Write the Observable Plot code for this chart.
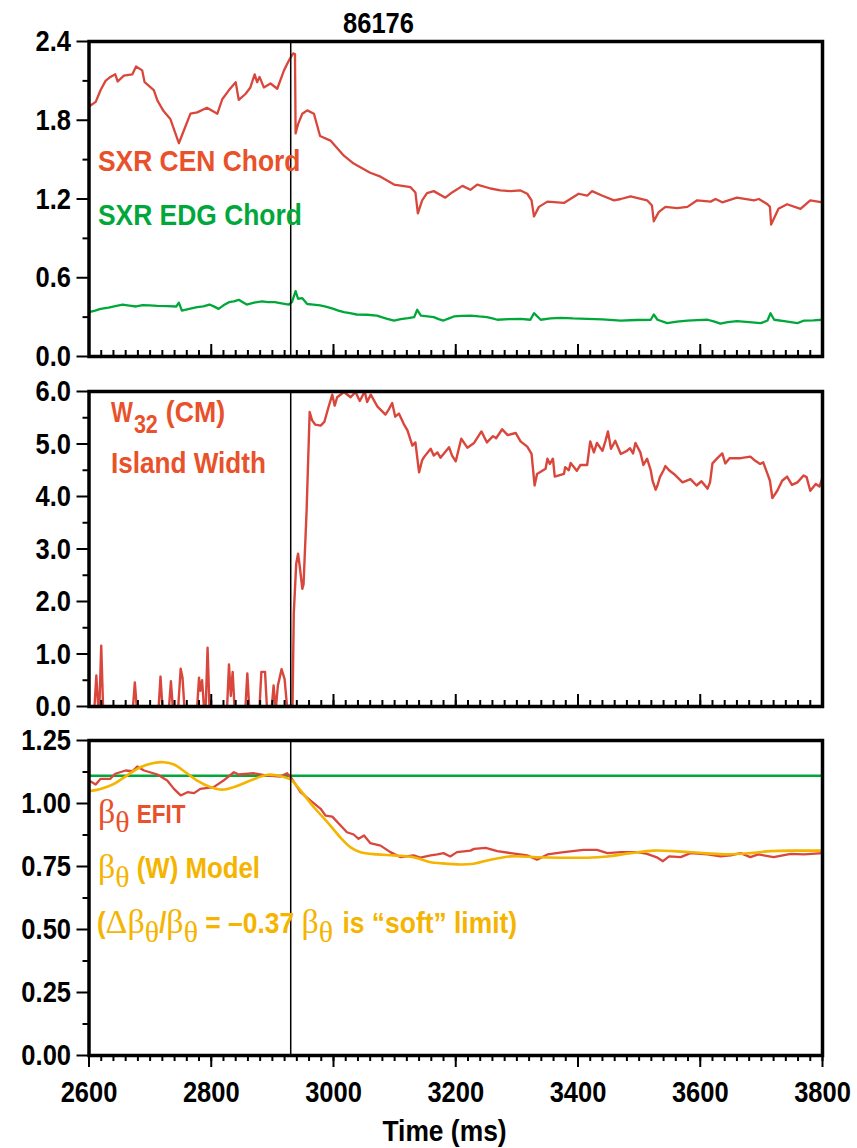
<!DOCTYPE html>
<html><head><meta charset="utf-8">
<script src="https://cdn.jsdelivr.net/npm/d3@7"></script>
<script src="https://cdn.jsdelivr.net/npm/@observablehq/plot@0.6"></script>
<style>
body{margin:0;background:#fff;}
#wrap{position:relative;width:857px;height:1148px;overflow:hidden;background:#fff;}
#wrap > svg{position:absolute;left:0;}
</style></head><body><div id="wrap"></div>
<script>
const SANS = "'Liberation Sans', Arial, Helvetica, sans-serif";
const SERIF = "'Liberation Serif','DejaVu Serif',serif";
const K = 0.86; // horizontal condensing of the bold sans text (narrow face look)

// ---- Panel 1: SXR chords ----
const sxrCenT = [2600,2611,2619,2627,2635,2643,2647,2657,2671,2677,2687,2691,2706,2712,2722,2733,2747,2755,2766,2777,2793,2810,2818,2829,2840,2845,2856,2864,2871,2875,2879,2886,2897,2908,2919,2927,2934,2937,2938,2942,2949,2957,2968,2978,2995,3017,3033,3060,3077,3099,3126,3134,3138,3145,3153,3164,3183,3194,3211,3224,3235,3257,3273,3290,3306,3317,3324,3328,3336,3350,3377,3401,3415,3423,3440,3459,3470,3486,3513,3521,3524,3532,3543,3562,3579,3595,3617,3625,3636,3660,3688,3696,3710,3714,3716,3728,3742,3764,3780,3800];
const sxrCenV = [1.905,1.94,2.03,2.10,2.13,2.15,2.095,2.14,2.15,2.21,2.18,2.09,2.03,1.95,1.87,1.81,1.625,1.72,1.85,1.86,1.895,1.85,1.96,2.03,2.09,1.955,2.00,2.05,2.15,2.09,2.13,2.05,2.08,2.04,2.18,2.255,2.31,2.305,1.70,1.77,1.85,1.875,1.85,1.68,1.645,1.53,1.47,1.40,1.37,1.31,1.29,1.25,1.09,1.19,1.245,1.26,1.21,1.25,1.30,1.27,1.31,1.28,1.265,1.26,1.265,1.24,1.19,1.067,1.14,1.18,1.17,1.24,1.225,1.26,1.225,1.19,1.20,1.22,1.19,1.15,1.03,1.10,1.14,1.13,1.14,1.19,1.18,1.20,1.175,1.21,1.19,1.20,1.16,1.14,1.005,1.125,1.16,1.125,1.19,1.175];
const sxrEdgT = [2600,2610,2619,2632,2645,2655,2666,2677,2688,2699,2712,2728,2743,2747,2752,2764,2777,2787,2797,2805,2812,2820,2829,2837,2845,2851,2858,2870,2883,2893,2904,2915,2927,2932,2938,2942,2949,2957,2967,2978,2989,3000,3008,3017,3027,3038,3055,3071,3080,3088,3099,3110,3122,3132,3137,3143,3154,3164,3172,3180,3189,3197,3210,3224,3238,3251,3260,3268,3287,3306,3322,3328,3339,3355,3372,3392,3415,3440,3470,3495,3519,3524,3530,3546,3562,3579,3595,3612,3622,3633,3645,3660,3680,3699,3710,3715,3721,3740,3759,3770,3785,3800];
const sxrEdgV = [0.338,0.35,0.363,0.372,0.385,0.396,0.388,0.381,0.392,0.39,0.385,0.384,0.381,0.41,0.35,0.362,0.376,0.382,0.396,0.38,0.363,0.39,0.414,0.42,0.432,0.415,0.396,0.41,0.42,0.415,0.414,0.405,0.396,0.414,0.498,0.44,0.444,0.40,0.395,0.389,0.378,0.363,0.35,0.338,0.33,0.32,0.318,0.312,0.298,0.287,0.274,0.284,0.292,0.30,0.356,0.312,0.306,0.30,0.285,0.274,0.29,0.305,0.31,0.312,0.305,0.30,0.29,0.28,0.285,0.287,0.28,0.33,0.28,0.29,0.295,0.29,0.287,0.283,0.274,0.278,0.28,0.32,0.28,0.254,0.265,0.274,0.277,0.28,0.268,0.25,0.262,0.27,0.262,0.254,0.274,0.33,0.28,0.268,0.254,0.274,0.276,0.28];

// ---- Panel 2: island width W32 (cm) ----
const w32T = [2600,2609,2612,2615,2617,2620,2623,2672,2675,2678,2714,2717,2720,2731,2734,2737,2746,2750,2753,2756,2777,2780,2782,2785,2788,2791,2794,2797,2826,2829,2832,2835,2838,2856,2859,2862,2879,2882,2888,2891,2899,2902,2905,2906,2909,2912,2915,2920,2924,2933,2935,2939,2942,2945,2949,2951,2956,2961,2965,2970,2979,2985,2992,2998,3002,3006,3017,3028,3036,3043,3051,3055,3061,3072,3085,3090,3096,3101,3107,3115,3121,3129,3134,3140,3145,3148,3159,3164,3170,3175,3189,3194,3200,3209,3219,3230,3242,3251,3261,3266,3276,3285,3298,3306,3317,3324,3329,3333,3347,3350,3354,3359,3362,3377,3379,3385,3388,3398,3404,3415,3420,3426,3431,3440,3445,3449,3454,3461,3470,3480,3485,3490,3494,3502,3507,3513,3519,3522,3527,3530,3534,3540,3543,3549,3557,3571,3584,3594,3602,3612,3616,3620,3628,3636,3641,3648,3666,3682,3690,3698,3703,3710,3714,3718,3726,3734,3742,3750,3759,3769,3774,3780,3789,3795,3800];
const w32V = [0,0,0.59,0,0,1.16,0,0,0.46,0,0,0.57,0,0,0.48,0,0,0.72,0.55,0,0,0.55,0.3,0.50,0,0,1.12,0,0,0.80,0.2,0.66,0,0,0.63,0,0,0.66,0.66,0,0,0.40,0,0,0.40,0.55,0.71,0.52,0,0.03,1.77,2.72,2.91,2.65,2.24,2.33,3.73,5.61,5.45,5.37,5.35,5.42,5.71,5.94,5.73,5.89,5.99,5.89,5.99,5.82,6.0,5.8,5.94,5.71,5.56,5.65,5.78,5.52,5.58,5.38,5.26,4.97,5.03,4.46,4.69,4.75,4.91,4.78,4.84,4.74,4.94,4.78,4.67,5.10,4.93,5.02,5.24,5.03,5.15,5.11,5.28,5.17,5.21,5.05,4.95,4.81,4.21,4.43,4.53,4.72,4.62,4.72,4.38,4.43,4.56,4.5,4.64,4.49,4.6,4.6,5.05,4.84,5.02,4.87,5.06,5.24,4.91,5.06,4.81,4.87,4.92,4.82,5.02,4.84,4.6,4.72,4.5,4.30,4.13,4.21,4.37,4.5,4.58,4.5,4.43,4.27,4.33,4.21,4.29,4.15,4.27,4.63,4.73,4.82,4.63,4.73,4.73,4.76,4.68,4.62,4.65,4.43,4.30,3.97,4.11,4.3,4.38,4.22,4.27,4.4,4.37,4.11,4.24,4.19,4.36];

// ---- Panel 3: beta_theta ----
const efitT = [2600,2611,2619,2635,2643,2660,2671,2679,2690,2712,2728,2739,2750,2761,2772,2782,2804,2820,2837,2845,2870,2892,2913,2924,2932,2946,2962,2979,2987,2998,3022,3033,3041,3050,3060,3077,3093,3110,3131,3142,3159,3170,3180,3191,3202,3224,3230,3249,3268,3290,3317,3333,3350,3377,3409,3431,3448,3470,3497,3513,3530,3539,3549,3568,3584,3612,3633,3650,3666,3682,3695,3720,3748,3770,3800];
const efitV = [1.091,1.075,1.098,1.098,1.118,1.131,1.128,1.147,1.131,1.115,1.091,1.058,1.032,1.045,1.041,1.058,1.065,1.091,1.124,1.115,1.12,1.111,1.107,1.12,1.098,1.045,1.012,0.979,0.952,0.948,0.886,0.877,0.86,0.873,0.843,0.833,0.807,0.787,0.794,0.785,0.794,0.798,0.803,0.79,0.807,0.813,0.82,0.824,0.811,0.803,0.794,0.777,0.798,0.807,0.816,0.816,0.803,0.807,0.807,0.80,0.785,0.771,0.79,0.787,0.803,0.798,0.79,0.794,0.803,0.787,0.798,0.787,0.80,0.798,0.803];
const modelT = [2600,2619,2641,2662,2684,2706,2722,2739,2758,2777,2799,2818,2837,2864,2892,2908,2924,2932,2946,2968,2990,3011,3028,3044,3071,3099,3131,3159,3175,3208,3230,3257,3290,3333,3372,3415,3448,3486,3524,3557,3606,3644,3682,3715,3760,3800];
const modelV = [1.049,1.058,1.078,1.111,1.144,1.161,1.164,1.155,1.124,1.091,1.065,1.055,1.065,1.091,1.114,1.111,1.101,1.091,1.052,0.985,0.926,0.866,0.826,0.807,0.798,0.794,0.787,0.767,0.763,0.758,0.761,0.777,0.79,0.787,0.785,0.785,0.79,0.803,0.813,0.811,0.803,0.798,0.803,0.811,0.813,0.813];
const betaLimit = 1.11;
const tEvent = 2930;

// ticks
const xMajor = [2600,2800,3000,3200,3400,3600,3800];
const xMinor = d3.range(2600, 3801, 20);
const y1Major = [0,0.6,1.2,1.8,2.4], y1Minor = [0.3,0.9,1.5,2.1];
const y2Major = [0,1,2,3,4,5,6], y2Minor = [0.5,1.5,2.5,3.5,4.5,5.5];
const y3Major = [0,0.25,0.5,0.75,1,1.25], y3Minor = [0.125,0.375,0.625,0.875,1.125];

const RED = "#d9473c", REDTXT = "#e8512a", GREEN = "#00a83a", GREENTXT = "#00a83c", YEL = "#f4b400";

const zip = (T, V) => T.map((t, i) => ({t, v: V[i]}));

function panel({height, mt, mb, yDomain, yMajor, yMinor, fmt, marks, outwardX}) {
  const ph = height - mt - mb;
  const axes = [
    Plot.axisY({ticks: yMajor, tickSize: 12, tickPadding: 6, tickFormat: fmt, fontSize: 30, fontWeight: "bold", strokeWidth: 2, label: null}),
    Plot.axisY({ticks: yMinor, tickSize: 6, tickFormat: () => "", strokeWidth: 2, label: null})
  ];
  if (outwardX) {
    axes.push(Plot.axisX({ticks: xMinor, tickSize: 6, tickFormat: () => "", strokeWidth: 2, label: null}));
    axes.push(Plot.axisX({ticks: xMajor, tickSize: 12, tickPadding: 13, tickFormat: d3.format("d"), fontSize: 30, fontWeight: "bold", strokeWidth: 2, label: null}));
  } else {
    axes.push(Plot.ruleX(xMinor, {x: d => d, insetTop: ph - 6, strokeWidth: 2}));
    axes.push(Plot.ruleX(xMajor, {x: d => d, insetTop: ph - 12, strokeWidth: 2}));
  }
  return Plot.plot({
    width: 857, height, marginTop: mt, marginBottom: mb, marginLeft: 88.5, marginRight: 35,
    x: outwardX ? {domain: [2600, 3800]} : {domain: [2600, 3800], axis: null},
    y: {domain: yDomain, axis: null},
    style: {fontFamily: SANS, fontWeight: "bold", overflow: "visible", background: "transparent"},
    marks: [...marks, ...axes, Plot.ruleX([tEvent], {strokeWidth: 1.5}), Plot.frame({strokeWidth: 3.5})]
  });
}

// condense the tick labels so they look like the narrow face of the original
function condenseTicks(svg) {
  svg.querySelectorAll("text").forEach(t => {
    const w = t.getComputedTextLength();
    if (w > 0) { t.setAttribute("textLength", w * 0.85); t.setAttribute("lengthAdjust", "spacingAndGlyphs"); }
  });
}

// rich annotation: sequence of parts laid out left to right
function addRich(svg, x, y, fill, parts, anchor) {
  const g = d3.select(svg).append("g").attr("fill", fill).attr("text-anchor", "start");
  let cx = x;
  for (const p of parts) {
    const t = g.append("text").attr("x", cx).attr("y", y + (p.dy || 0)).attr("text-anchor", "start").text(p.text)
      .style("font-size", p.fs + "px").style("white-space", "pre")
      .style("font-family", p.serif ? SERIF : SANS).style("font-weight", p.serif ? "normal" : "bold");
    let w = t.node().getComputedTextLength();
    if (!p.serif) { w *= (p.k || K); t.attr("textLength", w).attr("lengthAdjust", "spacingAndGlyphs"); }
    cx += w + (p.gap || 0);
  }
  if (anchor === "middle") g.attr("transform", `translate(${-(cx - x) / 2},0)`);
  return g;
}

const wrap = document.getElementById("wrap");

const p1 = panel({height: 370, mt: 41, mb: 14, yDomain: [0, 2.4], yMajor: y1Major, yMinor: y1Minor, fmt: d3.format(".1f"),
  marks: [
    Plot.line(zip(sxrEdgT, sxrEdgV), {x: "t", y: "v", stroke: GREEN, strokeWidth: 2.3}),
    Plot.line(zip(sxrCenT, sxrCenV), {x: "t", y: "v", stroke: RED, strokeWidth: 2.3})
  ]});
p1.style.top = "0px"; wrap.appendChild(p1); condenseTicks(p1);
addRich(p1, 378.5, 33, "#000", [{text: "86176", fs: 29, k: 0.88}], "middle");
addRich(p1, 98, 171, REDTXT, [{text: "SXR CEN Chord", fs: 30, k: 0.88}]);
addRich(p1, 98, 225, GREENTXT, [{text: "SXR EDG Chord", fs: 30, k: 0.88}]);

const p2 = panel({height: 350, mt: 21, mb: 14, yDomain: [0, 6], yMajor: y2Major, yMinor: y2Minor, fmt: d3.format(".1f"),
  marks: [Plot.line(zip(w32T, w32V), {x: "t", y: "v", stroke: RED, strokeWidth: 2.4})]});
p2.style.top = "370px"; wrap.appendChild(p2); condenseTicks(p2);
addRich(p2, 111, 52, REDTXT, [{text: "W", fs: 29, k: 0.8, gap: 1}, {text: "32", fs: 25, dy: 11, gap: 8}, {text: "(CM)", fs: 29, k: 0.92}]);
addRich(p2, 111, 103, REDTXT, [{text: "Island Width", fs: 29, k: 0.9}]);

const p3 = panel({height: 428, mt: 20, mb: 93, yDomain: [0, 1.25], yMajor: y3Major, yMinor: y3Minor, fmt: d3.format(".2f"), outwardX: true,
  marks: [
    Plot.ruleY([betaLimit], {stroke: GREEN, strokeWidth: 2.5}),
    Plot.line(zip(efitT, efitV), {x: "t", y: "v", stroke: RED, strokeWidth: 2.3}),
    Plot.line(zip(modelT, modelV), {x: "t", y: "v", stroke: YEL, strokeWidth: 2.6, curve: "catmull-rom"})
  ]});
p3.style.top = "720px"; wrap.appendChild(p3); condenseTicks(p3);
addRich(p3, 98, 103, REDTXT, [{text: "β", fs: 34, serif: true}, {text: "θ", fs: 30, serif: true, dy: 9, gap: 7}, {text: "EFIT", fs: 25, k: 0.9}]);
addRich(p3, 98, 158, YEL, [{text: "β", fs: 34, serif: true}, {text: "θ", fs: 30, serif: true, dy: 9, gap: 7}, {text: "(W) Model", fs: 30, k: 0.86}]);
addRich(p3, 97, 213, YEL, [
  {text: "(", fs: 30}, {text: "Δβ", fs: 34, serif: true}, {text: "θ", fs: 30, serif: true, dy: 9},
  {text: "/", fs: 30}, {text: "β", fs: 34, serif: true}, {text: "θ", fs: 30, serif: true, dy: 9},
  {text: " = –0.37 ", fs: 30, k: 0.88}, {text: "β", fs: 34, serif: true}, {text: "θ", fs: 30, serif: true, dy: 9, gap: 2},
  {text: " is “soft” limit)", fs: 30, k: 0.88}]);
addRich(p3, 444.5, 421, "#000", [{text: "Time (ms)", fs: 30, k: 0.88}], "middle");
</script>
</body></html>
